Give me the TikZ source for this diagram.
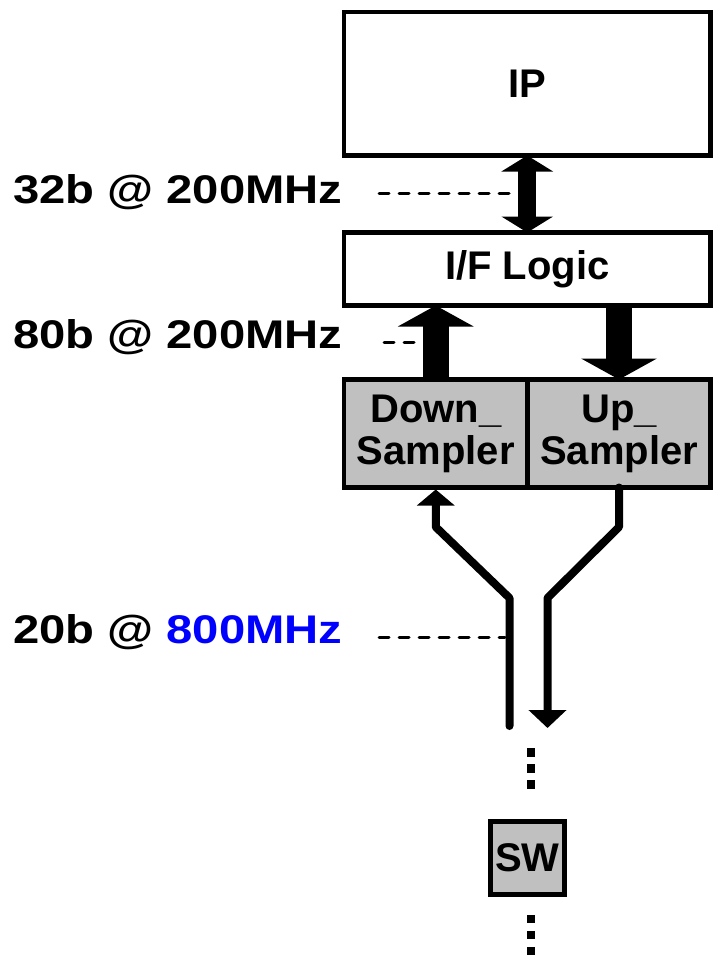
\documentclass[tikz,border=0pt]{standalone}
\usepackage{fontspec}
\usepackage{graphicx}
\setmainfont{Liberation Sans}
\usetikzlibrary{arrows.meta}
\definecolor{boxgray}{HTML}{C0C0C0}
\definecolor{labelblue}{HTML}{0000FF}
\begin{document}
\begin{tikzpicture}[x=1pt,y=-1pt,
  blk/.style={draw=black, line width=4.5pt, fill=white, inner sep=0pt, outer sep=0pt,
    font=\fontsize{40}{42}\selectfont\bfseries, align=center},
  graybox/.style={blk, fill=boxgray},
  lbl/.style={inner sep=0pt, outer sep=0pt, anchor=base west, font=\fontsize{40}{42}\selectfont\bfseries},
  thickarrow/.style={line width=26pt, -{Triangle[width=75pt,length=21pt]}},
  busline/.style={line width=8pt, line cap=round, line join=round},
  leader/.style={line width=3pt, line cap=round, dash pattern=on 10pt off 10pt},
  dotcol/.style={line width=8.3pt, dash pattern=on 8.3pt off 7.7pt}
]
\useasboundingbox (0,0) rectangle (719,961);

% boxes
\node[blk, minimum width=366.5pt, minimum height=143.5pt] (ip) at (527.25,83.75) {IP};
\node[blk, minimum width=366.5pt, minimum height=73pt] (if) at (527.25,269) {I/F Logic};
\node[graybox, minimum width=183.5pt, minimum height=108pt] (dn) at (435.75,433.5) {Down\_\\Sampler};
\node[graybox, minimum width=183pt, minimum height=108pt] (up) at (619,433.5) {Up\_\\Sampler};
\node[graybox, minimum width=74pt, minimum height=73pt] (sw) at (527.5,858) {SW};

% block arrows
\draw[line width=18pt, {Triangle[width=51pt,length=16pt]}-{Triangle[width=51pt,length=16pt]}] (ip.south) -- (if.north);
\draw[thickarrow] (dn.north) -- (dn.north |- if.south);
\draw[thickarrow] (up.north |- if.south) -- (up.north);

% serial lines
\coordinate (lbot) at (509.5,726);
\coordinate (rtip) at (547.5,728);
\draw[busline, -{Triangle[width=37pt,length=16pt]}, shorten >=2pt]
  (lbot) -- (509.5,598) -- (dn.south |- 0,527) -- (dn.south);
\draw[busline, -{Triangle[width=37pt,length=18pt]}]
  (up.south) -- (up.south |- 0,527) -- (547.5,598) -- (rtip);

% ellipsis dots
\coordinate (dA) at (531,748.3);
\coordinate (dB) at (531,788.6);
\coordinate (dC) at (531,915);
\coordinate (dD) at (531,955.3);
\draw[dotcol] (dA) -- (dB);
\draw[dotcol] (dC) -- (dD);

% labels
\node[lbl] (l1) at (13,203) {\scalebox{1.18}[1]{32b @ 200MHz}};
\node[lbl] (l2) at (13,348) {\scalebox{1.18}[1]{80b @ 200MHz}};
\node[lbl] (l3) at (13,643) {\scalebox{1.18}[1]{20b @ \textcolor{labelblue}{800MHz}}};

% leader lines
\coordinate (a1) at (379,193);
\coordinate (b1) at (519,193);
\coordinate (a2) at (384,342);
\coordinate (b2) at (418,342);
\coordinate (a3) at (379,637);
\coordinate (b3) at (505,637);
\draw[leader] (a1) -- (b1);
\draw[leader] (a2) -- (b2);
\draw[leader] (a3) -- (b3);
\end{tikzpicture}
\end{document}
